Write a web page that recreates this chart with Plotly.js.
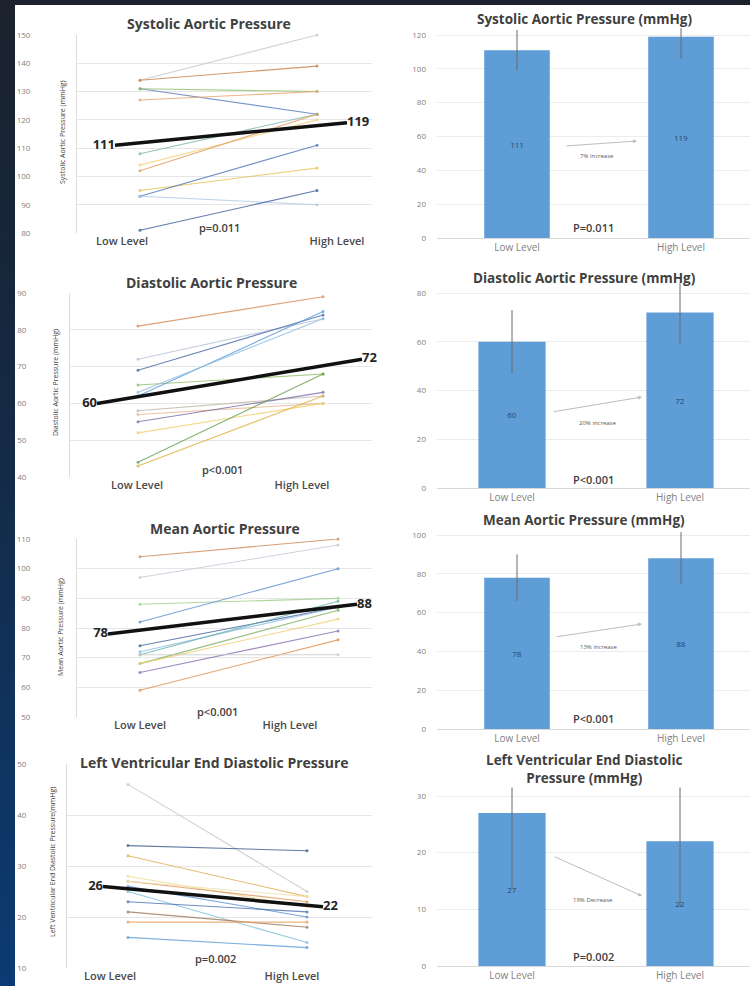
<!DOCTYPE html>
<html><head><meta charset="utf-8">
<script src="https://cdn.plot.ly/plotly-3.0.1.min.js"></script>
<style>
html,body{margin:0;padding:0;width:750px;height:986px;overflow:hidden;background:linear-gradient(to bottom,#1b222d 0%,#142a45 45%,#0b3b73 100%);}
#chart{position:absolute;left:15px;top:5px;width:735px;height:981px;background:#fff;}
</style></head><body><div id="chart"></div>
<script>
// ---------------- DATA ----------------
const levels = ['Low Level', 'High Level'];

// individual patients (left column)
const sysLow  = [134,134,131,131,127,108,104,102,95,93,93,81];
const sysHigh = [150,139,122,130,130,122,120,122,103,111,90,95];
const diaLow  = [81,72,69,65,62,63,58,57,55,52,44,43];
const diaHigh = [89,83,84,68,85,83,62,60,63,60,68,62];
const mapLow  = [104,97,88,82,74,72,71,68,68,65,59,71];
const mapHigh = [110,108,90,100,87,87,89,86,83,79,76,71];
const lvLow   = [46,34,32,28,27,26,25,23,21,19,16,27];
const lvHigh  = [25,33,24,22,23,20,15,21,18,19,14,24];

// group means (black lines)
const sysMean = [111,119];
const diaMean = [60,72];
const mapMean = [78,88];
const lvMean  = [26,22];

// bar charts (right column)
const sysBar = [111,119]; const sysSD = [12,13];
const diaBar = [60,72];   const diaSD = [13,12.5];
const mapBar = [78,88];   const mapSD = [12,13.5];
const lvBar  = [27,22];   const lvSD  = [13.5,11.5];

const pTexts = ['=0.011','<0.001','<0.001','=0.002'];

// ---------------- STYLES ----------------
const sysColors = ['#c9c9c9','#c9804a','#5b7fbf','#8fbf6a','#e8a36b','#7fb8a8','#f3d27a','#e39a5a','#e8c04a','#4f74b8','#a9c8e8','#3b5a9a'];
const diaColors = ['#d98c5a','#b8c4d8','#4a6aa8','#8fbf6a','#5b9bd5','#8fbfe0','#bfb6a8','#e8b890','#7a6aa8','#f0d070','#6aa050','#e0b040'];
const mapColors = ['#d08a5a','#c0c8d8','#9fcf8a','#5b8fd0','#3f5f9f','#8fbfe0','#6ab0b0','#80b060','#f0d070','#8a70b0','#e0904a','#c8c8c8'];
const lvColors  = ['#c8c8c8','#3b5a8a','#e0b050','#f2dc90','#e09a60','#5b8fd0','#7ac0d8','#4a70b0','#a07a5a','#e8a060','#5b9bd5','#f0e0b0'];

const FONT = '"Open Sans", "DejaVu Sans", sans-serif';
const W = 735, H = 981, OX = 15, OY = 5;
const X = px => (px - OX) / W;
const Y = py => 1 - (py - OY) / H;

const leftPanels = [
  {title:'Systolic Aortic Pressure', ytitle:'Systolic Aortic Pressure (mmHg)', low:sysLow, high:sysHigh, mean:sysMean, colors:sysColors,
   px0:77, px1:372, top:35, bot:233, yr:[80,150], xL:140, xH:317, tickX:[122,337], meanX:[115,347],
   titleXY:[209,23], ytXY:[63,132], pXY:[220,227], standoff:44},
  {title:'Diastolic Aortic Pressure', ytitle:'Diastolic Aortic Pressure (mmHg)', low:diaLow, high:diaHigh, mean:diaMean, colors:diaColors,
   px0:70, px1:372, top:293, bot:477, yr:[40,90], xL:138, xH:323, tickX:[137,302], meanX:[97,362],
   titleXY:[211,282], ytXY:[55,383], pXY:[222,469], standoff:41},
  {title:'Mean Aortic Pressure', ytitle:'Mean Aortic Pressure (mmHg)', low:mapLow, high:mapHigh, mean:mapMean, colors:mapColors,
   px0:77, px1:372, top:539, bot:717, yr:[50,110], xL:140, xH:338, tickX:[140,290], meanX:[108,357],
   titleXY:[225,528], ytXY:[60,627], pXY:[217,711], standoff:44},
  {title:'Left Ventricular End Diastolic Pressure', ytitle:'Left Ventricular End Diastolic Pressure(mmHg)', low:lvLow, high:lvHigh, mean:lvMean, colors:lvColors,
   px0:67, px1:372, top:764, bot:968, yr:[10,50], xL:128, xH:307, tickX:[110,292], meanX:[103,323],
   titleXY:[214,762], ytXY:[52,862], pXY:[215,958], standoff:38}
];

const rightPanels = [
  {title:'Systolic Aortic Pressure (mmHg)', vals:sysBar, sd:sysSD, top:35, bot:238, topTick:120, dtick:20, yMax:124,
   cx:[517,681], titleY:19, arrow:[[565,146],[637,141]], pctXY:[597,156], pXY:[593,228]},
  {title:'Diastolic Aortic Pressure (mmHg)', vals:diaBar, sd:diaSD, top:293, bot:488, topTick:80, dtick:20, yMax:84,
   cx:[512,680], titleY:278, arrow:[[552,412],[642,397]], pctXY:[597,423], pXY:[593,479]},
  {title:'Mean Aortic Pressure (mmHg)', vals:mapBar, sd:mapSD, top:535, bot:729, topTick:100, dtick:20, yMax:104,
   cx:[517,681], titleY:520, arrow:[[555,637],[642,624]], pctXY:[598,647], pXY:[593,718]},
  {title:'Left Ventricular End Diastolic<br>Pressure (mmHg)', vals:lvBar, sd:lvSD, top:796, bot:966, topTick:30, dtick:10, yMax:31.5,
   cx:[512,680], titleY:769, arrow:[[553,856],[642,896]], pctXY:[593,900], pXY:[593,956]}
];

const traces = [];
const layout = {
  width: W, height: H, margin:{l:0,r:0,t:0,b:0},
  paper_bgcolor:'#ffffff', plot_bgcolor:'rgba(0,0,0,0)',
  showlegend:false, bargap:0.6,
  font:{family:FONT, color:'#595959'},
  annotations:[]
};

let ax = 1;
leftPanels.forEach(p => {
  const xa = 'x' + ax, ya = 'y' + ax;
  const xk = 'xaxis' + ax, yk = 'yaxis' + ax;
  const span = p.xH - p.xL;
  const toX = px => (px - p.xL) / span;
  layout[xk] = {
    domain:[X(p.px0), X(p.px1)], anchor:ya, range:[toX(p.px0), toX(p.px1)],
    showgrid:false, zeroline:false, showline:false, ticks:'',
    tickvals:p.tickX.map(toX), ticktext:levels,
    tickfont:{family:FONT, size:11, color:'#4a4a4a', weight:600}, fixedrange:true
  };
  layout[yk] = {
    domain:[Y(p.bot), Y(p.top)], anchor:xa, range:p.yr, dtick:10,
    showgrid:true, gridcolor:'#e6e6e6', gridwidth:1, zeroline:false,
    showline:true, linecolor:'#dcdcdc', ticks:'',
    ticklabelstandoff:p.standoff,
    tickfont:{family:FONT, size:8, color:'#7f7f7f'}, fixedrange:true
  };
  p.low.forEach((v, i) => {
    traces.push({
      type:'scatter', mode:'lines+markers', xaxis:xa, yaxis:ya,
      x:[0,1], y:[v, p.high[i]],
      line:{color:p.colors[i], width:1.1}, marker:{color:p.colors[i], size:3},
      opacity:0.8, cliponaxis:false, hoverinfo:'skip'
    });
  });
  traces.push({
    type:'scatter', mode:'lines+text', xaxis:xa, yaxis:ya,
    x:p.meanX.map(toX), y:p.mean, text:p.mean.map(String),
    textposition:['middle left','middle right'],
    textfont:{family:FONT, size:13, color:'#262626', weight:700},
    line:{color:'#111111', width:3.5}, cliponaxis:false, hoverinfo:'skip'
  });
  layout.annotations.push(
    {xref:'paper', yref:'paper', x:X(p.titleXY[0]), y:Y(p.titleXY[1]), text:p.title, showarrow:false,
     font:{family:FONT, size:14, color:'#404040', weight:700}, xanchor:'center', yanchor:'middle'},
    {xref:'paper', yref:'paper', x:X(p.ytXY[0]), y:Y(p.ytXY[1]), text:p.ytitle, showarrow:false, textangle:-90,
     font:{family:FONT, size:7, color:'#404040'}, xanchor:'center', yanchor:'middle'},
    {xref:'paper', yref:'paper', x:X(p.pXY[0]), y:Y(p.pXY[1]), text:'p' + pTexts[ax-1], showarrow:false,
     font:{family:FONT, size:11, color:'#404040', weight:600}, xanchor:'center', yanchor:'middle'}
  );
  ax++;
});

rightPanels.forEach((p, k) => {
  const xa = 'x' + ax, ya = 'y' + ax;
  const xk = 'xaxis' + ax, yk = 'yaxis' + ax;
  const unit = p.cx[1] - p.cx[0];
  const px0 = 437, px1 = 750;
  const topPx = p.bot - p.yMax * (p.bot - p.top) / p.topTick;
  layout[xk] = {
    domain:[X(px0), X(px1)], anchor:ya, type:'category',
    range:[(px0 - p.cx[0]) / unit, (px1 - p.cx[0]) / unit],
    showgrid:false, zeroline:false, showline:true, linecolor:'#d9d9d9', ticks:'',
    tickfont:{family:FONT, size:10, color:'#7f7f7f'}, fixedrange:true
  };
  layout[yk] = {
    domain:[Y(p.bot), Y(topPx)], anchor:xa, range:[0, p.yMax], dtick:p.dtick,
    showgrid:true, gridcolor:'#ececec', zeroline:false, showline:false, ticks:'',
    ticklabelstandoff:10, tickfont:{family:FONT, size:8, color:'#7f7f7f'}, fixedrange:true
  };
  traces.push({
    type:'bar', xaxis:xa, yaxis:ya, x:levels, y:p.vals,
    marker:{color:'#5f9dd7', line:{width:0}},
    text:p.vals.map(String), textposition:'inside', insidetextanchor:'middle',
    textfont:{family:FONT, size:8, color:'#23466f'},
    error_y:{type:'data', array:p.sd, visible:true, color:'#6a6a6a', thickness:1, width:0},
    hoverinfo:'skip'
  });
  const pct = (p.vals[1] - p.vals[0]) / p.vals[0] * 100;
  const pctText = Math.round(Math.abs(pct)) + '% ' + (pct >= 0 ? 'increase' : 'Decrease');
  const A = p.arrow[0], B = p.arrow[1];
  layout.annotations.push(
    {xref:'paper', yref:'paper', x:X(584), y:Y(p.titleY), text:p.title, showarrow:false,
     font:{family:FONT, size:13.5, color:'#404040', weight:700}, xanchor:'center', yanchor:'middle'},
    {xref:'paper', yref:'paper', x:X(B[0]), y:Y(B[1]), ax:A[0]-B[0], ay:A[1]-B[1], text:'', showarrow:true,
     arrowhead:2, arrowsize:0.8, arrowwidth:1, arrowcolor:'#bdbdbd'},
    {xref:'paper', yref:'paper', x:X(p.pctXY[0]), y:Y(p.pctXY[1]), text:pctText, showarrow:false,
     font:{family:FONT, size:6, color:'#595959'}, xanchor:'center', yanchor:'middle'},
    {xref:'paper', yref:'paper', x:X(p.pXY[0]), y:Y(p.pXY[1]), text:'P' + pTexts[k], showarrow:false,
     font:{family:FONT, size:11, color:'#404040', weight:600}, xanchor:'center', yanchor:'middle'}
  );
  ax++;
});

Plotly.newPlot('chart', traces, layout, {staticPlot:true, displayModeBar:false});
</script></body></html>
